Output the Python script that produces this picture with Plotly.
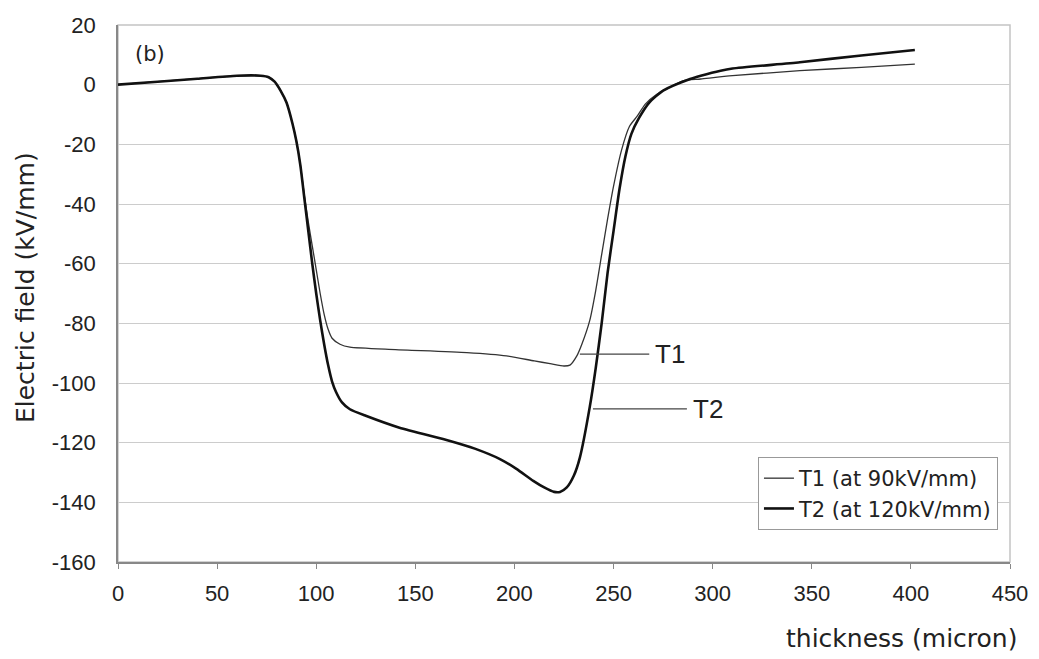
import plotly.graph_objects as go

# T1 (at 90kV/mm)
t1_x = [0, 20, 40, 60, 72, 76, 79, 82, 85, 88, 90, 92, 94, 96, 98, 100, 102, 104, 106, 108, 112, 117, 140, 176, 196, 210, 218, 225, 228, 231.4, 234, 238, 241, 244, 247, 250, 254, 258, 262, 266, 272, 278, 285, 294, 310, 344, 375, 402]
t1_y = [0, 1, 2, 3, 3, 2.5, 1, -2, -6, -13, -19, -27, -37, -46, -54, -62, -70, -77, -82, -85, -87, -88, -88.8, -89.8, -90.9, -92.6, -93.5, -94.3, -94, -91, -87, -79, -69, -57, -45, -34, -22, -14, -10.5, -6.5, -3.1, -1, 1.3, 1.9, 3, 4.7, 5.8, 6.9]

# T2 (at 120kV/mm)
t2_x = [0, 20, 40, 60, 72, 76, 79, 82, 85, 88, 90, 92, 94, 96, 98, 100, 102, 104, 106, 108, 110, 113, 117, 125, 142, 167.5, 180, 192.7, 201, 209.5, 215, 220, 223, 226.4, 230, 233, 238, 241, 244, 247, 250, 253, 256, 259, 263, 268, 275, 288.6, 294, 304, 310, 344, 375, 402]
t2_y = [0, 1, 2, 3, 3, 2.5, 1, -2, -6, -13, -19, -27, -38, -49, -60, -70, -79, -87, -94, -99.5, -103, -106.5, -108.8, -111, -115, -119.4, -122, -125.5, -128.8, -132.8, -135, -136.5, -136.5, -135, -131, -125, -108, -95, -80, -63, -49, -35, -24, -16.5, -11, -6, -2, 1.9, 3, 4.7, 5.4, 7.5, 9.8, 11.6]

x_ticks = [0, 50, 100, 150, 200, 250, 300, 350, 400, 450]
x_labels = ["0", "50", "100", "150", "200", "250", "300", "350", "400", "450"]
y_ticks = [20, 0, -20, -40, -60, -80, -100, -120, -140, -160]
y_labels = ["20", "0", "-20", "-40", "-60", "-80", "-100", "-120", "-140", "-160"]

FONT = "Liberation Sans, Arial, sans-serif"
WIDE = "DejaVu Sans, Liberation Sans, sans-serif"

fig = go.Figure()
fig.add_trace(go.Scatter(x=t1_x, y=t1_y, mode="lines", name="T1 (at 90kV/mm)",
                         line=dict(color="#333333", width=1.3, shape="spline", smoothing=0.6)))
fig.add_trace(go.Scatter(x=t2_x, y=t2_y, mode="lines", name="T2 (at 120kV/mm)",
                         line=dict(color="#111111", width=2.6, shape="spline", smoothing=0.6)))

# frame (top/right lighter)
fig.add_shape(type="rect", xref="paper", yref="paper", x0=0, y0=0, x1=1, y1=1,
              line=dict(color="#c4c4c4", width=1.5), layer="below")

# label leader lines
fig.add_shape(type="line", x0=233, y0=-90.3, x1=268, y1=-90.3, line=dict(color="#444", width=1.2))
fig.add_shape(type="line", x0=239.6, y0=-108.7, x1=287, y1=-108.7, line=dict(color="#444", width=1.2))
fig.add_annotation(x=270, y=-90.3, text="T1", showarrow=False, xanchor="left",
                   font=dict(family=FONT, size=26, color="#222"))
fig.add_annotation(x=289, y=-108.7, text="T2", showarrow=False, xanchor="left",
                   font=dict(family=FONT, size=26, color="#222"))
fig.add_annotation(x=16, y=10.4, text="(b)", showarrow=False,
                   font=dict(family=WIDE, size=21, color="#222"))

fig.add_annotation(xref="paper", yref="paper", x=(901 - 118) / 892, y=-(638 - 562) / 537,
                   text="thickness (micron)", showarrow=False, xanchor="center", yanchor="middle",
                   font=dict(family=WIDE, size=25, color="#222"))
fig.add_annotation(xref="paper", yref="paper", x=(25 - 118) / 892, y=(562 - 288) / 537,
                   text="Electric field (kV/mm)", showarrow=False, textangle=-90,
                   xanchor="center", yanchor="middle",
                   font=dict(family=WIDE, size=25, color="#222"))

fig.update_layout(
    width=1039, height=659,
    margin=dict(l=110, r=37, t=17, b=105, autoexpand=False),
    paper_bgcolor="white", plot_bgcolor="white",
    font=dict(family=FONT, size=22, color="#222"),
    showlegend=True,
    legend=dict(x=0.9865, y=0.1955, xanchor="right", yanchor="top",
                bordercolor="#999", borderwidth=1, bgcolor="white",
                font=dict(family=WIDE, size=21, color="#222"),
                itemwidth=30, tracegroupgap=0),
    xaxis=dict(range=[0, 450], tickvals=x_ticks, ticktext=x_labels, showgrid=False, zeroline=False,
               showline=True, linecolor="#888", linewidth=1.5, automargin=False,
               ticks="outside", ticklen=5, tickcolor="#888", ticklabelstandoff=6,
               tickfont=dict(size=22)),
    yaxis=dict(range=[-160, 20], tickvals=y_ticks, ticktext=y_labels, showgrid=True, gridcolor="#cccccc",
               gridwidth=1, zeroline=False, showline=True, linecolor="#888", linewidth=1.5,
               automargin=False, ticks="", ticklabelstandoff=16, tickfont=dict(size=22)),
)

fig.write_html("out.html")
